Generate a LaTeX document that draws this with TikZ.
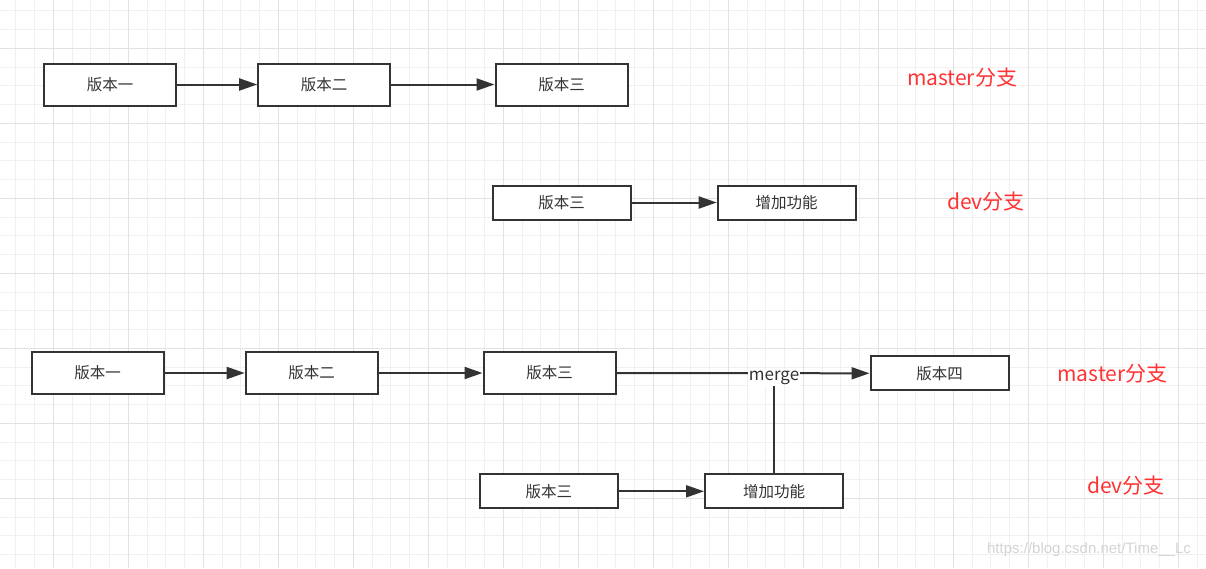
\documentclass[tikz,border=0pt]{standalone}
\usepackage{fontspec}
\setmainfont{Noto Sans CJK SC}
\newfontfamily\wmfont{Liberation Sans}
\usetikzlibrary{arrows.meta}
\definecolor{ink}{HTML}{333333}
\definecolor{redlab}{HTML}{FF3333}
\definecolor{gridminor}{HTML}{F0F0F0}
\definecolor{gridmajor}{HTML}{E2E2E2}
\definecolor{wm}{HTML}{D4D4D4}
\begin{document}
\begin{tikzpicture}[x=1pt,y=-1pt,
 bigbox/.style={draw=ink, line width=2pt, fill=white, minimum width=132pt, minimum height=42pt, inner sep=0pt, text=ink, font=\fontsize{15.5}{18}\selectfont},
 smallbox/.style={bigbox, minimum width=138pt, minimum height=34pt},
 arr/.style={draw=ink, line width=2pt, -{Triangle[length=18pt,width=12pt]}},
 plainline/.style={draw=ink, line width=2pt},
 lab/.style={text=redlab, font=\fontsize{21}{24}\selectfont, inner sep=0pt},
 mlab/.style={fill=white, text=ink, font=\fontsize{17}{20}\selectfont, inner sep=1pt},
 gminor/.style={draw=gridminor, line width=1pt},
 gmajor/.style={draw=gridmajor, line width=1pt}
]
\useasboundingbox (0,0) rectangle (1206,568);
\fill[white] (0,0) rectangle (1206,568);
% grid
\foreach \i in {0,...,63} { \draw[gminor] ({15.833+18.75*\i},0) -- ++(0,568); }
\foreach \i in {0,...,29} { \draw[gminor] (0,{10.833+18.75*\i}) -- ++(1206,0); }
\foreach \i in {0,...,15} { \draw[gmajor] ({53.333+75*\i},0) -- ++(0,568); }
\foreach \i in {0,...,6} { \draw[gmajor] (0,{48.333+75*\i}) -- ++(1206,0); }

% row 1: master
\node[bigbox] (a1) at (110.2,84.5) {版本一};
\node[bigbox] (a2) at (324.2,84.5) {版本二};
\node[bigbox] (a3) at (561.5,84.5) {版本三};
\draw[arr] (a1) -- (a2);
\draw[arr] (a2) -- (a3);
\node[lab] (l1) at (962,78) {master分支};

% row 2: dev
\node[smallbox] (b1) at (561.5,202.5) {版本三};
\node[smallbox] (b2) at (786.7,202.5) {增加功能};
\draw[arr] (b1) -- (b2);
\node[lab] (l2) at (986,202) {dev分支};

% row 3: master after merge
\node[bigbox] (c1) at (97.7,373) {版本一};
\node[bigbox] (c2) at (311.7,373) {版本二};
\node[bigbox] (c3) at (549.5,373) {版本三};
\node[smallbox] (c4) at (939.5,373.3) {版本四};
\draw[arr] (c1) -- (c2);
\draw[arr] (c2) -- (c3);
\draw[arr] (c3.east) -- (c4.west);
\node[lab] (l3) at (1112.5,374) {master分支};

% row 4: dev
\node[smallbox] (d1) at (548.8,491.3) {版本三};
\node[smallbox] (d2) at (774,491.3) {增加功能};
\draw[arr] (d1) -- (d2);
\node[lab] (l4) at (1126,486) {dev分支};

% merge label
\node[mlab] (mg) at (774,378) {merge};
\draw[plainline] (d2.north) -- (mg.south);

% watermark
\node[text=wm, font=\wmfont\fontsize{15}{18}\selectfont, inner sep=0pt] (wmk) at (1089,550) {https://blog.csdn.net/Time\_\_Lc};
\end{tikzpicture}
\end{document}
